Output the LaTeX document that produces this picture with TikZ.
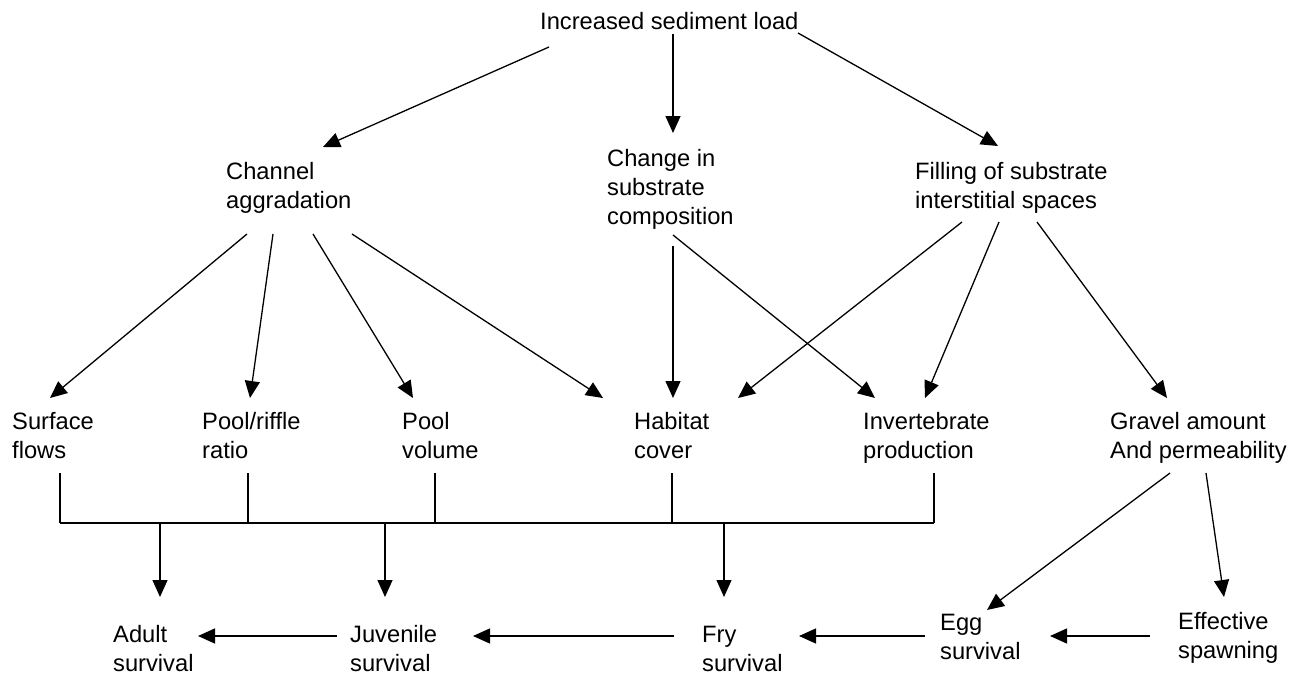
\documentclass[tikz,border=0pt]{standalone}
\usepackage{fontspec}
\setmainfont{Liberation Sans}
\usetikzlibrary{positioning,arrows.meta,calc}

\begin{document}
\begin{tikzpicture}[x=1pt,y=-1pt,
    lbl/.style={font=\fontsize{23.7}{29}\selectfont, align=left, inner sep=0pt, anchor=base west},
    ln/.style={line width=1.3pt},
    arr/.style={ln, -{Triangle[length=17pt,width=15pt]}}]
        \useasboundingbox (0,0) rectangle (1310,675);
        % causes (nodes sit on the baseline of their last line)
        \node[lbl] (load) at (540,29) {Increased sediment load};
        \node[lbl] (chan) at (226,208) {Channel\\aggradation};
        \node[lbl] (chg) at (607,224) {Change in\\substrate\\composition};
        \node[lbl] (fill) at (915,208) {Filling of substrate\\interstitial spaces};
        % habitat effects
        \node[lbl] (surf) at (12,458) {Surface\\flows};
        \node[lbl] (pr) at (202,458) {Pool/riffle\\ratio};
        \node[lbl] (pv) at (402,458) {Pool\\volume};
        \node[lbl] (hab) at (634,458) {Habitat\\cover};
        \node[lbl] (inv) at (863,458) {Invertebrate\\production};
        \node[lbl] (grav) at (1110,458) {Gravel amount\\And permeability};
        % survival stages
        \node[lbl] (adult) at (113,671) {Adult\\survival};
        \node[lbl] (juv) at (350,671) {Juvenile\\survival};
        \node[lbl] (fry) at (702,671) {Fry\\survival};
        \node[lbl] (egg) at (940,659) {Egg\\survival};
        \node[lbl] (eff) at (1178,658) {Effective\\spawning};
        % first level
        \draw[arr] ($(load.base west)+(9,18)$) -- ($(chan.base west)+(97,-61)$);
        \draw[arr] ($(load.base west)+(133,5)$) -- ($(chg.base west)+(66,-91)$);
        \draw[arr] ($(load.base west)+(258,4)$) -- ($(fill.base west)+(83,-62)$);
        % second level
        \draw[arr] ($(chan.base west)+(21,26)$) -- ($(surf.base west)+(38,-60)$);
        \draw[arr] ($(chan.base west)+(47,26)$) -- ($(pr.base west)+(48,-60)$);
        \draw[arr] ($(chan.base west)+(87,26)$) -- ($(pv.base west)+(11,-60)$);
        \draw[arr] ($(chan.base west)+(126,26)$) -- ($(hab.base west)+(-31,-60)$);
        \draw[arr] ($(chg.base west)+(66,22)$) -- ($(hab.base west)+(39,-60)$);
        \draw[arr] ($(chg.base west)+(66,11)$) -- ($(inv.base west)+(12,-60)$);
        \draw[arr] ($(fill.base west)+(47,14)$) -- ($(hab.base west)+(104,-60)$);
        \draw[arr] ($(fill.base west)+(84,14)$) -- ($(inv.base west)+(62,-60)$);
        \draw[arr] ($(fill.base west)+(122,14)$) -- ($(grav.base west)+(57,-60)$);
        % gravel to eggs and spawning
        \draw[arr] ($(grav.base west)+(60,15)$) -- ($(egg.base west)+(47,-49)$);
        \draw[arr] ($(grav.base west)+(96,15)$) -- ($(eff.base west)+(46,-61)$);
        % collecting bus
        \coordinate (busL) at ($(surf.base west)+(48,65)$);
        \coordinate (busR) at ($(inv.base west)+(71,65)$);
        \draw[ln] (busL) -- (busR);
        \foreach \n/\dx in {surf/48, pr/46, pv/33, hab/38, inv/71}
          \draw[ln] ($(\n.base west)+(\dx,15)$) -- ($(\n.base west)+(\dx,65)$);
        \foreach \n/\dx in {adult/47, juv/35, fry/22}
          \draw[arr] ($(\n.base west)+(\dx,-148)$) -- ($(\n.base west)+(\dx,-74)$);
        % life chain
        \draw[arr] ($(eff.base west)+(-28,-22)$) -- ($(egg.base west)+(110,-23)$);
        \draw[arr] ($(egg.base west)+(-15,-23)$) -- ($(fry.base west)+(97,-35)$);
        \draw[arr] ($(fry.base west)+(-28,-35)$) -- ($(juv.base west)+(123,-35)$);
        \draw[arr] ($(juv.base west)+(-13,-35)$) -- ($(adult.base west)+(85,-35)$);
\end{tikzpicture}
\end{document}
